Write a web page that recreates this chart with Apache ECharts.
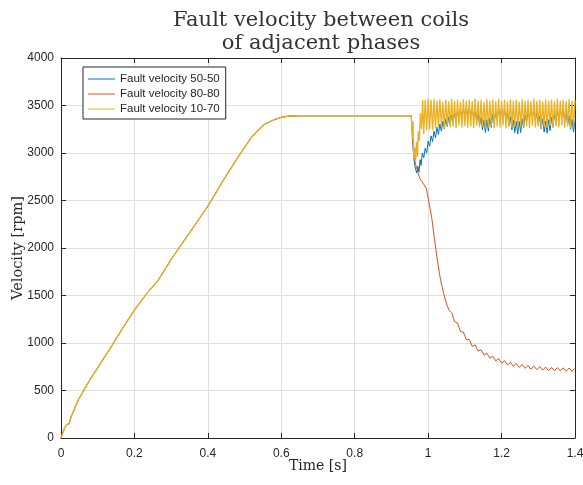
<!DOCTYPE html>
<html><head><meta charset="utf-8">
<script src="https://cdn.jsdelivr.net/npm/echarts@6/dist/echarts.min.js"></script>
<style>html,body{margin:0;padding:0;background:#fff}#c{width:583px;height:485px}</style>
</head><body><div id="c"></div>
<script>
const seriesNames = ['Fault velocity 50-50', 'Fault velocity 80-80', 'Fault velocity 10-70'];
const seriesColors = ['#0072BD', '#D95319', '#EDB120'];

// common start-up (all three runs coincide until the fault)
const riseT = [0, 0.004, 0.010, 0.016, 0.022, 0.028, 0.034, 0.040, 0.047, 0.056, 0.065, 0.083, 0.102, 0.118, 0.134, 0.167, 0.200, 0.234, 0.265, 0.300, 0.350, 0.400, 0.440, 0.474, 0.500, 0.520, 0.551, 0.580, 0.600, 0.620, 0.650, 0.700, 0.800, 0.900, 0.954];
const riseV = [0, 45, 110, 140, 150, 230, 280, 340, 400, 460, 523, 640, 750, 850, 944, 1150, 1347, 1523, 1663, 1880, 2160, 2440, 2700, 2909, 3060, 3172, 3295, 3350, 3375, 3388, 3392, 3392, 3392, 3392, 3392];

// fault transient
const blueFaultT = [0.955, 0.957, 0.960, 0.963, 0.966, 0.969, 0.972, 0.975, 0.978, 0.981, 0.984, 0.988];
const blueFaultV = [3392, 3200, 3000, 2880, 2830, 2790, 2860, 2800, 2930, 2870, 3000, 2950];
const yellowFaultT = [0.955, 0.957, 0.959, 0.961, 0.963, 0.966, 0.968, 0.971, 0.973, 0.976, 0.979, 0.982, 0.985, 0.988];
const yellowFaultV = [3392, 3150, 3330, 2940, 3060, 2920, 3120, 2960, 3230, 3130, 3420, 3250, 3560, 3200];
const redFaultT = [0.955, 0.958, 0.961, 0.965, 0.968, 0.971, 0.974, 0.978, 0.983, 0.988, 0.995, 1.001, 1.005, 1.010, 1.017, 1.025, 1.033, 1.042, 1.051, 1.058];
const redFaultV = [3392, 3150, 2960, 2900, 2850, 2820, 2770, 2730, 2700, 2670, 2628, 2505, 2420, 2312, 2102, 1874, 1681, 1523, 1400, 1340];

// oscillating steady state (50-50 and 10-70)
const oscT = [0.992, 0.996, 1.000, 1.004, 1.008, 1.012, 1.016, 1.020, 1.024, 1.028,
  1.032, 1.036, 1.040, 1.044, 1.048, 1.052, 1.056, 1.060, 1.064, 1.068,
  1.072, 1.076, 1.080, 1.084, 1.088, 1.092, 1.096, 1.100, 1.104, 1.108,
  1.112, 1.116, 1.120, 1.124, 1.128, 1.132, 1.136, 1.140, 1.144, 1.148,
  1.152, 1.156, 1.160, 1.164, 1.168, 1.172, 1.176, 1.180, 1.184, 1.188,
  1.192, 1.196, 1.200, 1.204, 1.208, 1.212, 1.216, 1.220, 1.224, 1.228,
  1.232, 1.236, 1.240, 1.244, 1.248, 1.252, 1.256, 1.260, 1.264, 1.268,
  1.272, 1.276, 1.280, 1.284, 1.288, 1.292, 1.296, 1.300, 1.304, 1.308,
  1.312, 1.316, 1.320, 1.324, 1.328, 1.332, 1.336, 1.340, 1.344, 1.348,
  1.352, 1.356, 1.360, 1.364, 1.368, 1.372, 1.376, 1.380, 1.384, 1.388,
  1.392, 1.396, 1.400];
const blueOscV = [3050, 3000, 3125, 3070, 3180, 3120, 3230, 3160, 3270, 3195,
  3305, 3230, 3335, 3255, 3360, 3280, 3380, 3300, 3400, 3320,
  3420, 3345, 3440, 3365, 3455, 3380, 3465, 3395, 3475, 3405,
  3475, 3400, 3465, 3370, 3440, 3335, 3410, 3290, 3375, 3245,
  3350, 3215, 3350, 3230, 3370, 3270, 3405, 3325, 3435, 3365,
  3460, 3405, 3465, 3380, 3450, 3345, 3425, 3290, 3380, 3245,
  3350, 3215, 3335, 3200, 3335, 3215, 3360, 3265, 3400, 3325,
  3435, 3370, 3460, 3385, 3445, 3350, 3425, 3300, 3390, 3255,
  3360, 3220, 3335, 3210, 3350, 3235, 3375, 3280, 3405, 3325,
  3435, 3365, 3450, 3380, 3445, 3345, 3425, 3300, 3390, 3250,
  3355, 3220, 3340];
const yellowOscV = [3560, 3240, 3570, 3250, 3560, 3240, 3570, 3260, 3550, 3270,
  3565, 3280, 3540, 3260, 3560, 3290, 3545, 3270, 3570, 3280,
  3550, 3260, 3560, 3290, 3540, 3270, 3565, 3285, 3550, 3265,
  3560, 3280, 3545, 3260, 3570, 3290, 3550, 3270, 3560, 3280,
  3540, 3260, 3565, 3270, 3550, 3285, 3560, 3260, 3545, 3280,
  3570, 3270, 3550, 3290, 3560, 3260, 3545, 3275, 3565, 3265,
  3550, 3280, 3560, 3260, 3540, 3285, 3565, 3270, 3550, 3280,
  3560, 3260, 3545, 3290, 3570, 3270, 3550, 3280, 3560, 3260,
  3540, 3275, 3565, 3265, 3550, 3285, 3560, 3260, 3545, 3280,
  3570, 3270, 3550, 3290, 3560, 3265, 3545, 3280, 3565, 3260,
  3550, 3275, 3555];

// 80-80 decay tail
const redTailT = [1.064, 1.072, 1.080, 1.088, 1.096, 1.104, 1.112, 1.120, 1.128, 1.136,
  1.144, 1.152, 1.160, 1.168, 1.176, 1.184, 1.192, 1.200, 1.208, 1.216,
  1.224, 1.232, 1.240, 1.248, 1.256, 1.264, 1.272, 1.280, 1.288, 1.296,
  1.304, 1.312, 1.320, 1.328, 1.336, 1.344, 1.352, 1.360, 1.368, 1.376,
  1.384, 1.392, 1.400];
const redTailV = [1320, 1225, 1210, 1120, 1115, 1035, 1038, 965, 980, 915,
  930, 874, 892, 840, 861, 812, 836, 788, 814, 770,
  797, 755, 784, 743, 773, 733, 764, 725, 757, 719,
  751, 714, 747, 710, 743, 707, 741, 705, 739, 703,
  737, 702, 734];

function pairs(t, v) { return t.map((x, i) => [x, v[i]]); }
const blueData = pairs(riseT, riseV).concat(pairs(blueFaultT, blueFaultV), pairs(oscT, blueOscV));
const redData = pairs(riseT, riseV).concat(pairs(redFaultT, redFaultV), pairs(redTailT, redTailV));
const yellowData = pairs(riseT, riseV).concat(pairs(yellowFaultT, yellowFaultV), pairs(oscT, yellowOscV));
const allData = [blueData, redData, yellowData];
const lineWidths = [1, 1, 1.3];

const axisCol = '#262626';
const sans = 'Liberation Sans, Arial, sans-serif';
const serif = 'DejaVu Serif, serif';

const chart = echarts.init(document.getElementById('c'), null, {renderer: 'canvas'});
const xBase = {type: 'value', min: 0, max: 1.4, interval: 0.2,
  axisLine: {show: true, onZero: false, lineStyle: {color: axisCol, width: 1}},
  axisTick: {show: true, inside: true, length: 5, lineStyle: {color: axisCol}}};
const yBase = {type: 'value', min: 0, max: 4000, interval: 500,
  axisLine: {show: true, onZero: false, lineStyle: {color: axisCol, width: 1}},
  axisTick: {show: true, inside: true, length: 5, lineStyle: {color: axisCol}}};

chart.setOption({
  animation: false,
  backgroundColor: '#ffffff',
  title: {
    text: 'Fault velocity between coils\nof adjacent phases',
    left: 316, top: 4, textAlign: 'center',
    textStyle: {fontFamily: serif, fontSize: 21, fontWeight: 'normal', color: '#333', lineHeight: 23}
  },
  grid: {left: 61, right: 8, top: 58, bottom: 47, containLabel: false, outerBoundsMode: 'none'},
  legend: {
    data: seriesNames, orient: 'vertical', left: 83, top: 67,
    icon: 'rect', itemWidth: 27, itemHeight: 1, itemGap: 0,
    padding: [4.5, 6, 2.5, 5],
    borderColor: axisCol, borderWidth: 1, backgroundColor: '#fff',
    selectedMode: false,
    textStyle: {fontFamily: sans, fontSize: 11.5, color: axisCol, lineHeight: 15}
  },
  xAxis: [
    Object.assign({}, xBase, {position: 'bottom',
      name: 'Time [s]', nameLocation: 'middle', nameGap: 21, nameMoveOverlap: false,
      nameTextStyle: {fontFamily: serif, fontSize: 14, color: axisCol},
      axisLabel: {fontFamily: sans, fontSize: 12, color: axisCol, margin: 10},
      splitLine: {show: true, lineStyle: {color: '#dfdfdf', width: 1}}}),
    Object.assign({}, xBase, {position: 'top', axisLabel: {show: false}, splitLine: {show: false}})
  ],
  yAxis: [
    Object.assign({}, yBase, {position: 'left',
      name: 'Velocity [rpm]', nameLocation: 'middle', nameGap: 35, nameMoveOverlap: false,
      nameTextStyle: {fontFamily: serif, fontSize: 14.5, color: axisCol},
      axisLabel: {fontFamily: sans, fontSize: 12, color: axisCol, margin: 7, formatter: v => String(v)},
      splitLine: {show: true, lineStyle: {color: '#dfdfdf', width: 1}}}),
    Object.assign({}, yBase, {position: 'right', axisLabel: {show: false}, splitLine: {show: false}})
  ],
  series: seriesNames.map((n, k) => ({
    name: n, type: 'line', data: allData[k], xAxisIndex: 0, yAxisIndex: 0,
    showSymbol: false, symbol: 'none', smooth: false,
    lineStyle: {color: seriesColors[k], width: lineWidths[k]}, itemStyle: {color: seriesColors[k]},
    z: 2 + k
  }))
});
</script>
</body></html>
